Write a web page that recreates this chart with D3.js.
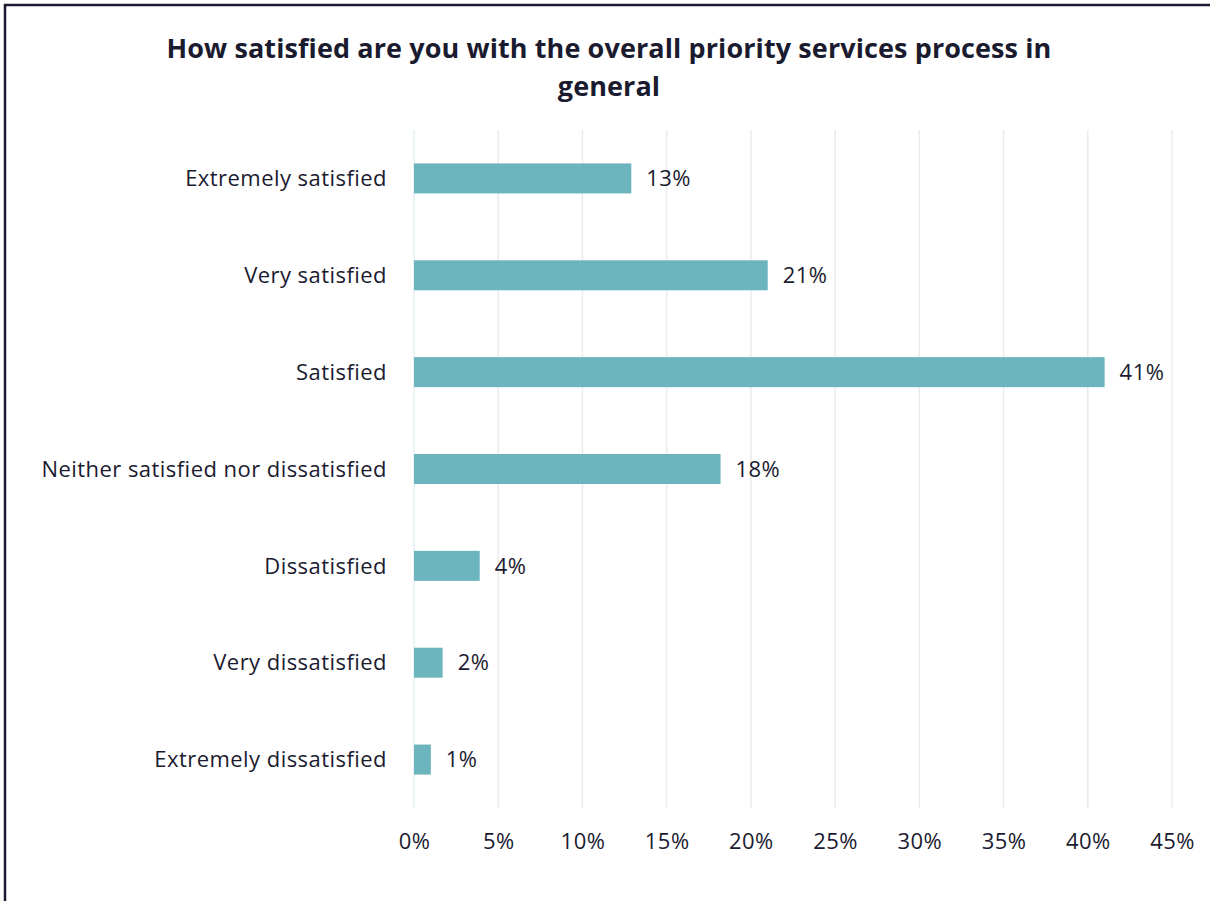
<!DOCTYPE html>
<html>
<head>
<meta charset="utf-8">
<script src="https://cdn.jsdelivr.net/npm/d3@7"></script>
<style>
  html, body { margin: 0; padding: 0; background: #ffffff; }
  svg { display: block; }
  text { font-family: "Open Sans", "Noto Sans", sans-serif; fill: #1b1b30; }
</style>
</head>
<body>
<svg id="chart" width="1210" height="901"></svg>
<script>
// Survey responses: share of respondents per satisfaction level
const categories = [
  "Extremely satisfied",
  "Very satisfied",
  "Satisfied",
  "Neither satisfied nor dissatisfied",
  "Dissatisfied",
  "Very dissatisfied",
  "Extremely dissatisfied"
];
const shares = [12.9, 21.0, 41.0, 18.2, 3.9, 1.7, 1.0];
const xTicks = [0, 5, 10, 15, 20, 25, 30, 35, 40, 45];
const titleLines = [
  "How satisfied are you with the overall priority services process in",
  "general"
];

const svg = d3.select("#chart");
const W = 1210, H = 901;
const labelSize = 22;
const labelSpacing = 0.45;

// outer frame
svg.append("rect")
  .attr("x", 5).attr("y", 5)
  .attr("width", W + 10).attr("height", H + 10)
  .attr("fill", "#ffffff")
  .attr("stroke", "#1b1b30")
  .attr("stroke-width", 2.5);

const plot = { left: 414, right: 1172, top: 130, bottom: 808 };

const x = d3.scaleLinear().domain([0, 45]).range([plot.left, plot.right]);
const y = d3.scaleBand().domain(categories).range([plot.top, plot.bottom]).paddingInner(0.69).paddingOuter(0.345);

// title
svg.append("g").selectAll("text")
  .data(titleLines)
  .join("text")
  .attr("x", 609)
  .attr("y", (d, i) => 58 + i * 38)
  .attr("text-anchor", "middle")
  .attr("font-size", 27)
  .attr("font-weight", 700)
  .attr("letter-spacing", 0.1)
  .text(d => d);

// vertical gridlines
svg.append("g").selectAll("line")
  .data(xTicks)
  .join("line")
  .attr("x1", d => x(d)).attr("x2", d => x(d))
  .attr("y1", plot.top).attr("y2", plot.bottom)
  .attr("stroke", d => d === 0 ? "#e3f0f2" : "#ebebeb")
  .attr("stroke-width", 1.5);

// bars
svg.append("g").selectAll("rect")
  .data(categories)
  .join("rect")
  .attr("x", x(0))
  .attr("y", d => y(d))
  .attr("width", (d, i) => x(shares[i]) - x(0))
  .attr("height", y.bandwidth())
  .attr("fill", "#6db5be");

// value labels
svg.append("g").selectAll("text")
  .data(categories)
  .join("text")
  .attr("x", (d, i) => x(shares[i]) + 15)
  .attr("y", d => y(d) + y.bandwidth() / 2)
  .attr("dy", "0.35em")
  .attr("font-size", labelSize)
  .attr("letter-spacing", labelSpacing)
  .text((d, i) => Math.round(shares[i]) + "%");

// category axis labels
svg.append("g").selectAll("text")
  .data(categories)
  .join("text")
  .attr("x", 387)
  .attr("y", d => y(d) + y.bandwidth() / 2)
  .attr("dy", "0.35em")
  .attr("text-anchor", "end")
  .attr("font-size", labelSize)
  .attr("letter-spacing", labelSpacing)
  .text(d => d);

// x axis tick labels
const xAxis = d3.axisBottom(x)
  .tickValues(xTicks)
  .tickFormat(d => d + "%")
  .tickSize(0)
  .tickPadding(0);
const gx = svg.append("g")
  .attr("transform", `translate(0, ${plot.bottom + 25})`)
  .call(xAxis);
gx.select(".domain").remove();
gx.selectAll("text")
  .attr("font-size", labelSize)
  .attr("letter-spacing", labelSpacing)
  .attr("font-family", "\"Open Sans\", \"Noto Sans\", sans-serif")
  .attr("fill", "#1b1b30");
</script>
</body>
</html>
